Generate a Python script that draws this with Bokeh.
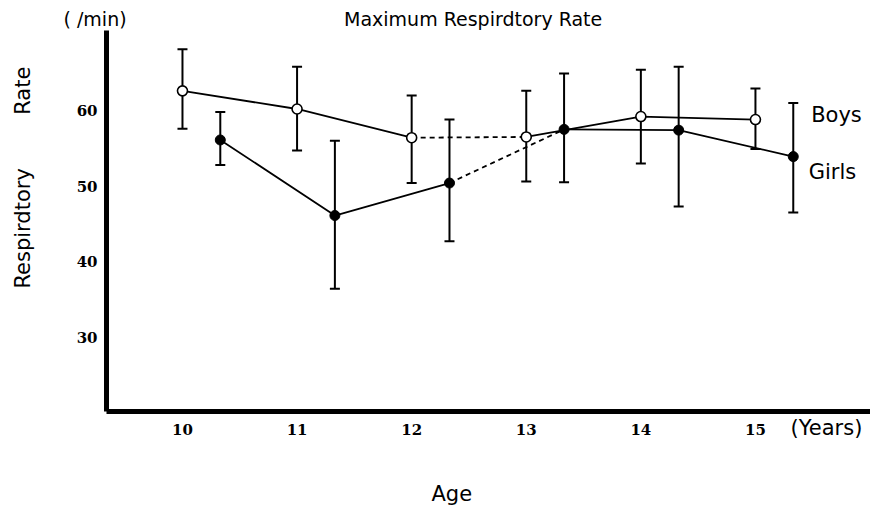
from bokeh.plotting import figure
from bokeh.models import (ColumnDataSource, Whisker, TeeHead, Label, FixedTicker, Range1d,
                          Title, LinearAxis)
from bokeh.embed import file_html
from bokeh.resources import INLINE

# ---- data ----
ages = [10, 11, 12, 13, 14, 15]
tick_labels = ["10", "11", "12", "13", "14", "15"]
y_ticks = [30, 40, 50, 60]

boys_mean = [62.6, 60.2, 56.4, 56.5, 59.2, 58.8]
boys_hi = [68.1, 65.8, 62.0, 62.6, 65.4, 62.9]
boys_lo = [57.6, 54.7, 50.4, 50.6, 53.0, 54.9]

girls_mean = [56.1, 46.1, 50.4, 57.5, 57.4, 53.9]
girls_hi = [59.8, 56.0, 58.8, 64.9, 65.8, 61.0]
girls_lo = [52.8, 36.4, 42.7, 50.5, 47.3, 46.5]

girls_shift = 0.33  # girls plotted slightly to the right of boys

boys_x = list(ages)
girls_x = [a + girls_shift for a in ages]

FONT = "DejaVu Sans"
NB = "\u00a0"
W, H = 870, 511

p = figure(width=W, height=H, output_backend="svg", toolbar_location=None,
           x_range=Range1d(9.337, 16.004), y_range=Range1d(20.16, 70.59),
           min_border_left=106, min_border_right=0, min_border_top=30, min_border_bottom=100)
p.outline_line_color = None
p.xgrid.visible = False
p.ygrid.visible = False
p.background_fill_color = "white"
p.border_fill_color = "white"

for ax in (p.xaxis[0], p.yaxis[0]):
    ax.axis_line_width = 5
    ax.axis_line_color = "black"
    ax.major_tick_line_color = None
    ax.minor_tick_line_color = None
    ax.major_tick_out = 0
    ax.major_tick_in = 0
    ax.major_label_text_font = "DejaVu Serif"
    ax.major_label_text_font_style = "bold"
    ax.major_label_text_font_size = "15px"
    ax.major_label_text_color = "black"

p.xaxis.ticker = FixedTicker(ticks=ages)
p.xaxis.major_label_overrides = {a: t for a, t in zip(ages, tick_labels)}
p.xaxis.major_label_standoff = 12
p.yaxis.ticker = FixedTicker(ticks=y_ticks)
p.yaxis.major_label_standoff = 9

# vertical axis title (leading no-break spaces move it up from the frame centre)
p.yaxis.axis_label = NB * 13 + "Respirdtory" + NB * 8 + "Rate"
p.yaxis.axis_label_text_font = FONT
p.yaxis.axis_label_text_font_size = "21px"
p.yaxis.axis_label_text_font_style = "normal"
p.yaxis.axis_label_text_color = "black"
p.yaxis.axis_label_standoff = 39

# second (line-less) bottom axis carrying the "(Years)" unit and the "Age" title
years_pos = 10 + (826 - 182) / 114.6
ax2 = LinearAxis(ticker=FixedTicker(ticks=[years_pos]),
                 major_label_overrides={years_pos: "(Years)"},
                 axis_line_color=None, major_tick_line_color=None, minor_tick_line_color=None,
                 major_tick_out=0, major_tick_in=0,
                 major_label_text_font=FONT, major_label_text_font_size="21px",
                 major_label_text_color="black",
                 major_label_standoff=-22,
                 axis_label="Age" + NB * 11, axis_label_text_font=FONT,
                 axis_label_text_font_size="21px", axis_label_text_font_style="normal",
                 axis_label_text_color="black",
                 axis_label_standoff=39)
p.add_layout(ax2, "below")

# title row: "( /min)" and the chart title
p.title = Title(text="( /min)" + NB * 36 + "Maximum Respirdtory Rate", align="left", offset=-43,
                text_font=FONT, text_font_size="19px", text_font_style="normal",
                text_color="black", standoff=1)

bsrc = ColumnDataSource(dict(x=boys_x, y=boys_mean, hi=boys_hi, lo=boys_lo))
gsrc = ColumnDataSource(dict(x=girls_x, y=girls_mean, hi=girls_hi, lo=girls_lo))

for src in (bsrc, gsrc):
    w = Whisker(base="x", upper="hi", lower="lo", source=src, line_width=2, line_color="black",
                upper_head=TeeHead(size=10, line_width=2, line_color="black"),
                lower_head=TeeHead(size=10, line_width=2, line_color="black"))
    p.add_layout(w)

# connecting lines: solid, dashed between 12 and 13, solid again
for xs, ys in ((boys_x, boys_mean), (girls_x, girls_mean)):
    p.line(xs[:3], ys[:3], line_color="black", line_width=1.8)
    p.line(xs[2:4], ys[2:4], line_color="black", line_width=1.8, line_dash="5 4")
    p.line(xs[3:], ys[3:], line_color="black", line_width=1.8)

p.scatter("x", "y", source=gsrc, size=10, marker="circle", fill_color="black", line_color="black")
p.scatter("x", "y", source=bsrc, size=10, marker="circle", fill_color="white", line_color="black",
          line_width=1.6)

for txt, px, py in (("Boys", 836, 114), ("Girls", 832, 171)):
    p.add_layout(Label(x=px, y=py, x_units="canvas", y_units="canvas", text=txt,
                       text_font=FONT, text_font_size="21px",
                       text_align="center", text_baseline="middle", text_color="black"))

open("out.html", "w").write(file_html(p, INLINE))
